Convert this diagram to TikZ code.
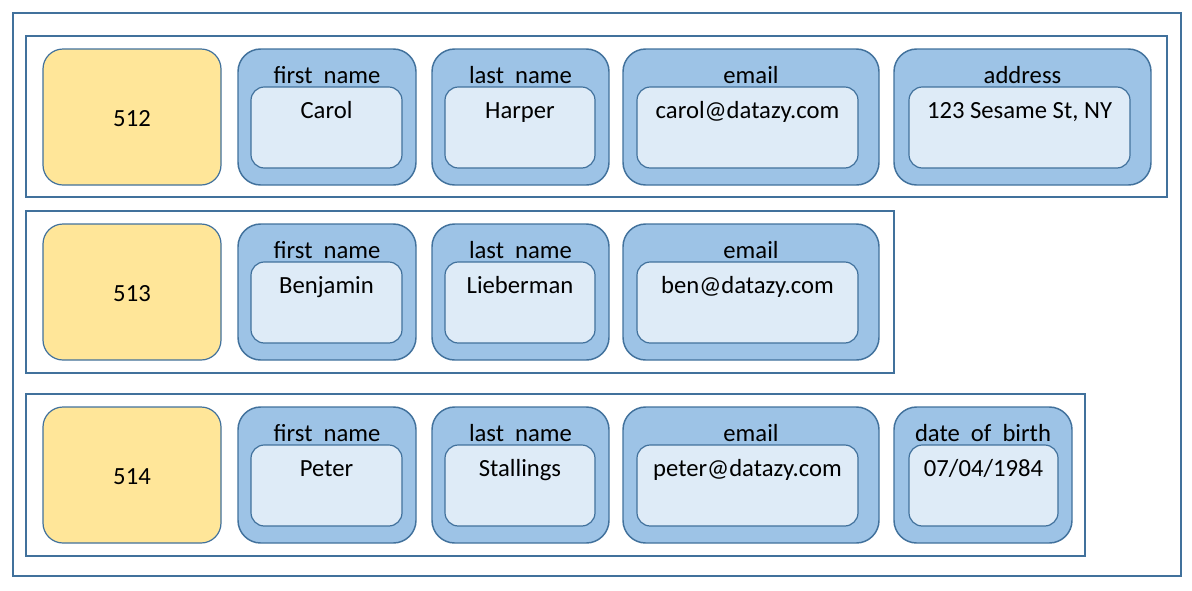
\documentclass[tikz,border=0pt]{standalone}
\usepackage{fontspec}
\setmainfont{Carlito}
\definecolor{edge}{HTML}{41719C}
\definecolor{idfill}{HTML}{FFE699}
\definecolor{outfill}{HTML}{9DC3E6}
\definecolor{infill}{HTML}{DEEBF7}
\tikzset{
  frame/.style={draw=edge, line width=1pt, rectangle, inner sep=0pt},
  idbox/.style={draw=edge, fill=idfill, line width=0.9pt, rounded corners=15pt, inner sep=0pt},
  outerbox/.style={draw=edge, fill=outfill, line width=1.1pt, rounded corners=17pt, inner sep=0pt},
  innerbox/.style={draw=edge, fill=infill, line width=0.9pt, rounded corners=10pt, inner sep=0pt},
  txt/.style={inner sep=0pt, text height=12pt, text depth=4pt, font=\fontsize{18.5}{21}\selectfont, text=black}
}
% name, x1, x2, ix1, ix2, ytop, header, value
\newcommand\fld[8]{%
  \node[outerbox, minimum width={(#3-#2)*0.75pt}, minimum height={136*0.75pt}] (#1) at ({(#2+#3)/2},{#6+68}) {};
  \node[innerbox, minimum width={(#5-#4)*0.75pt}, minimum height={81*0.75pt}] (#1i) at ({(#4+#5)/2},{#6+78.5}) {};
  \node[txt] (#1h) at ({(#2+#3)/2},{#6+29}) {#7};
  \node[txt] (#1v) at ({(#4+#5)/2},{#6+64}) {#8};
}
\newcommand\idb[3]{%
  \node[idbox, minimum width={178*0.75pt}, minimum height={136*0.75pt}] (#1) at (132,{#2+68}) {};
  \node[txt] (#1t) at (132,{#2+72}) {#3};
}
\begin{document}
\begin{tikzpicture}[x=0.75pt,y=-0.75pt]
\useasboundingbox (0,0) rectangle (1192,590);
\node[frame, minimum width={1168*0.75pt}, minimum height={563*0.75pt}] (outer) at (597,294.5) {};
\node[frame, minimum width={1141*0.75pt}, minimum height={161*0.75pt}] (row1) at (596.5,116.5) {};
\node[frame, minimum width={868*0.75pt}, minimum height={162*0.75pt}] (row2) at (460,292) {};
\node[frame, minimum width={1059*0.75pt}, minimum height={162*0.75pt}] (row3) at (555.5,475) {};
% row 1
\idb{id1}{49}{512}
\fld{fn1}{238}{416}{251}{402}{49}{first\hspace{0.45em}name}{Carol}
\fld{ln1}{432}{609}{445}{595}{49}{last\hspace{0.45em}name}{Harper}
\fld{em1}{623}{879}{637}{858}{49}{email}{carol@datazy.com}
\fld{ad1}{894}{1151}{909}{1130}{49}{address}{123 Sesame St, NY}
% row 2
\idb{id2}{224}{513}
\fld{fn2}{238}{416}{251}{402}{224}{first\hspace{0.45em}name}{Benjamin}
\fld{ln2}{432}{609}{445}{595}{224}{last\hspace{0.45em}name}{Lieberman}
\fld{em2}{623}{879}{637}{858}{224}{email}{ben@datazy.com}
% row 3
\idb{id3}{407}{514}
\fld{fn3}{238}{416}{251}{402}{407}{first\hspace{0.45em}name}{Peter}
\fld{ln3}{432}{609}{445}{595}{407}{last\hspace{0.45em}name}{Stallings}
\fld{em3}{623}{879}{637}{858}{407}{email}{peter@datazy.com}
\fld{db3}{894}{1072}{909}{1058}{407}{date\hspace{0.45em}of\hspace{0.45em}birth}{07/04/1984}
\end{tikzpicture}
\end{document}
